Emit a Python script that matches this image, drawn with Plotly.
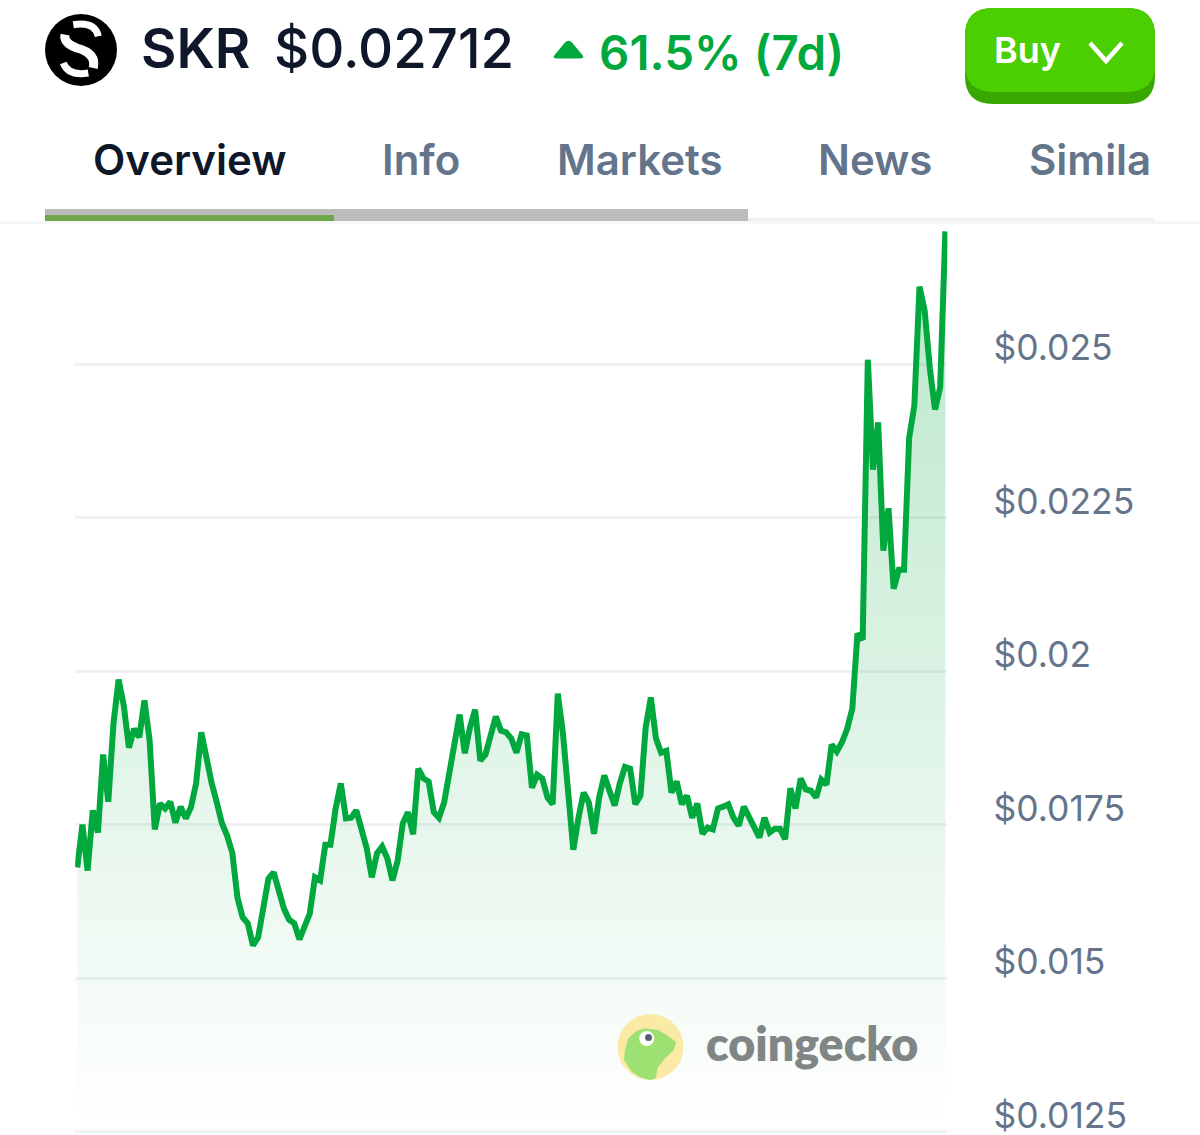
import plotly.graph_objects as go

W, H = 1200, 1135

# hourly prices over the 7 day window
prices = [
    0.01680, 0.01750, 0.01675, 0.01773, 0.01737, 0.01864, 0.01787, 0.01914, 0.01986, 0.01944,
    0.01875, 0.01906, 0.01892, 0.01952, 0.01887, 0.01742, 0.01784, 0.01776, 0.01787, 0.01753,
    0.01779, 0.01760, 0.01778, 0.01817, 0.01900, 0.01854, 0.01818, 0.01786, 0.01752, 0.01732,
    0.01704, 0.01631, 0.01599, 0.01589, 0.01553, 0.01566, 0.01615, 0.01662, 0.01672, 0.01642,
    0.01613, 0.01595, 0.01589, 0.01563, 0.01586, 0.01605, 0.01664, 0.01659, 0.01717, 0.01717,
    0.01776, 0.01817, 0.01760, 0.01761, 0.01773, 0.01745, 0.01712, 0.01664, 0.01703, 0.01714,
    0.01695, 0.01659, 0.01691, 0.01752, 0.01770, 0.01734, 0.01841, 0.01825, 0.01820, 0.01770,
    0.01761, 0.01786, 0.01838, 0.01892, 0.01929, 0.01866, 0.01908, 0.01937, 0.01854, 0.01864,
    0.01900, 0.01926, 0.01903, 0.01900, 0.01890, 0.01867, 0.01897, 0.01895, 0.01810, 0.01831,
    0.01825, 0.01794, 0.01783, 0.01963, 0.01898, 0.01800, 0.01709, 0.01761, 0.01802, 0.01786,
    0.01735, 0.01794, 0.01830, 0.01805, 0.01781, 0.01817, 0.01844, 0.01841, 0.01783, 0.01797,
    0.01908, 0.01957, 0.01890, 0.01867, 0.01870, 0.01802, 0.01820, 0.01783, 0.01797, 0.01761,
    0.01784, 0.01735, 0.01745, 0.01742, 0.01776, 0.01779, 0.01783, 0.01761, 0.01748, 0.01779,
    0.01761, 0.01748, 0.01729, 0.01761, 0.01737, 0.01743, 0.01743, 0.01726, 0.01809, 0.01776,
    0.01825, 0.01807, 0.01805, 0.01794, 0.01823, 0.01815, 0.01880, 0.01869, 0.01884, 0.01906,
    0.01939, 0.02061, 0.02051, 0.02507, 0.02328, 0.02405, 0.02196, 0.02265, 0.02134, 0.02165,
    0.02165, 0.02380, 0.02432, 0.02626, 0.02587, 0.02493, 0.02426, 0.02462, 0.02716,
]
hours = list(range(len(prices)))

tick_values = [0.025, 0.0225, 0.02, 0.0175, 0.015, 0.0125]
tick_labels = ["$0.025", "$0.0225", "$0.02", "$0.0175", "$0.015", "$0.0125"]

tabs = ["Overview", "Info", "Markets", "News", "Simila"]
tab_left = [91, 380, 555, 816, 1027]

GREEN = "#00a83e"
INK = "#0f172a"
SLATE = "#64748b"


def px(x):
    return x / W


def py(y):
    return 1 - y / H


def pt(x, y):
    return f"{px(x):.5f},{py(y):.5f}"


def poly(points, close=True):
    # points are in screen pixels, shapes want paper fractions
    d = "M" + " L".join(pt(x, y) for x, y in points)
    return d + (" Z" if close else "")


def round_rect(x0, y0, x1, y1, r):
    return (
        f"M{pt(x0 + r, y0)} L{pt(x1 - r, y0)} Q{pt(x1, y0)} {pt(x1, y0 + r)} "
        f"L{pt(x1, y1 - r)} Q{pt(x1, y1)} {pt(x1 - r, y1)} "
        f"L{pt(x0 + r, y1)} Q{pt(x0, y1)} {pt(x0, y1 - r)} "
        f"L{pt(x0, y0 + r)} Q{pt(x0, y0)} {pt(x0 + r, y0)} Z"
    )


def round_triangle():
    return (
        f"M{pt(557, 58.5)} Q{pt(551.5, 58.5)} {pt(555, 54.5)} L{pt(565, 42.5)} Q{pt(568.5, 39)} {pt(572, 42.5)} "
        f"L{pt(582, 54.5)} Q{pt(585.5, 58.5)} {pt(580, 58.5)} Z"
    )


def rect(x0, y0, x1, y1, color):
    return dict(type="rect", xref="paper", yref="paper", x0=px(x0), x1=px(x1),
                y0=py(y0), y1=py(y1), fillcolor=color, line_width=0, layer="above")


def circle(cx, cy, rx, ry, color):
    return dict(type="circle", xref="paper", yref="paper", x0=px(cx - rx), x1=px(cx + rx),
                y0=py(cy + ry), y1=py(cy - ry), fillcolor=color, line_width=0, layer="above")


def path(d, color=None, line=None, width=0):
    s = dict(type="path", xref="paper", yref="paper", path=d, layer="above")
    s["fillcolor"] = color if color else "rgba(0,0,0,0)"
    s["line"] = dict(color=line, width=width) if line else dict(width=0)
    return s


def label(text, x, y, size, color, weight=400, family="Inter", anchor="left"):
    return dict(text=text, x=px(x), y=py(y), xref="paper", yref="paper", xanchor=anchor,
                yanchor="middle", showarrow=False, align="left",
                font=dict(family=family, size=size, color=color, weight=weight))


fig = go.Figure()

fig.add_trace(
    go.Scatter(
        x=hours,
        y=prices,
        mode="lines",
        line=dict(color=GREEN, width=6, shape="linear"),
        fill="tozeroy",
        fillgradient=dict(
            type="vertical",
            start=0.0272,
            stop=0.0125,
            colorscale=[[0, "rgba(0,168,62,0.28)"], [1, "rgba(0,168,62,0)"]],
        ),
        hoverinfo="skip",
        showlegend=False,
    )
)

shapes = [
    # header logo, the S is three separate strokes
    circle(81, 50, 36, 36, "#000000"),
    path(f"M{pt(73.3, 24.7)} Q{pt(95, 21.3)} {pt(98.3, 36.3)}", None, "#ffffff", 7),
    path(f"M{pt(65, 34.7)} Q{pt(63.3, 43)} {pt(76.7, 48)} Q{pt(96.7, 53)} {pt(93.3, 68)}", None, "#ffffff", 9),
    path(f"M{pt(63.3, 63)} Q{pt(68.3, 76.3)} {pt(88.3, 73)}", None, "#ffffff", 7),
    # rising arrow
    path(round_triangle(), GREEN),
    # buy button
    path(round_rect(965, 8, 1155, 104, 28), "#38a800"),
    path(round_rect(965, 8, 1155, 92, 28), "#4ccf00"),
    path(poly([(1090, 43), (1106, 61), (1122, 43)], close=False), None, "#ffffff", 4.5),
    # tab strip
    rect(748, 218, 1155, 221, "#eef0f3"),
    rect(45, 209, 748, 221, "#bcbcbc"),
    rect(45, 215, 334, 221, "#6ea84a"),
    rect(0, 221, 1200, 224, "#f6f7f8"),
    # coingecko mark
    circle(650.5, 1047, 33, 33, "#fbeaa5"),
    path(
        poly([(624, 1060), (625, 1050), (628.3, 1038.3), (636.7, 1030.7), (645, 1028.3),
              (658.3, 1030), (666.7, 1035), (676, 1041.7), (674, 1050), (665, 1058.3),
              (657.3, 1068.3), (656, 1078.3), (650, 1080), (640, 1077.3), (631.7, 1071.7)]),
        "#9de173",
    ),
    circle(646.7, 1038.5, 7.5, 7.5, "#ffffff"),
    circle(648.5, 1037.5, 3.5, 3.5, "#5b5f73"),
]

annotations = [
    label("SKR", 139, 48, 54.5, INK, 600),
    label("$0.02712", 272, 48, 54.5, INK, 500),
    label("61.5% (7d)", 597, 53, 47.5, GREEN, 600),
    label("Buy", 992, 50, 36, "#ffffff", 600),
    label("coingecko", 704, 1043, 46.5, "#808586", 800, family="Lato"),
]
for text, left in zip(tabs, tab_left):
    annotations.append(label(text, left, 160, 42, INK if text == "Overview" else SLATE, 600))

fig.update_layout(
    width=W,
    height=H,
    margin=dict(l=0, r=0, t=0, b=0),
    paper_bgcolor="#ffffff",
    plot_bgcolor="#ffffff",
    showlegend=False,
    shapes=shapes,
    annotations=annotations,
    hovermode=False,
    xaxis=dict(
        domain=[75.2 / W, 947.4 / W],
        range=[-0.4, 168.4],
        visible=False,
        fixedrange=True,
    ),
    yaxis=dict(
        domain=[0, 1 - 222 / H],
        range=[0.012443, 0.027313],
        side="right",
        tickmode="array",
        tickvals=tick_values,
        ticktext=tick_labels,
        ticks="",
        ticklabelshift=-16,
        ticklabelstandoff=45,
        ticklabeloverflow="allow",
        tickfont=dict(family="Inter", size=35.5, color=SLATE),
        showgrid=True,
        gridcolor="#eff1f3",
        gridwidth=3,
        zeroline=False,
        showline=False,
        automargin=False,
        fixedrange=True,
    ),
)

fig.write_html("out.html", config=dict(displayModeBar=False), post_script="document.body.style.margin='0';")
